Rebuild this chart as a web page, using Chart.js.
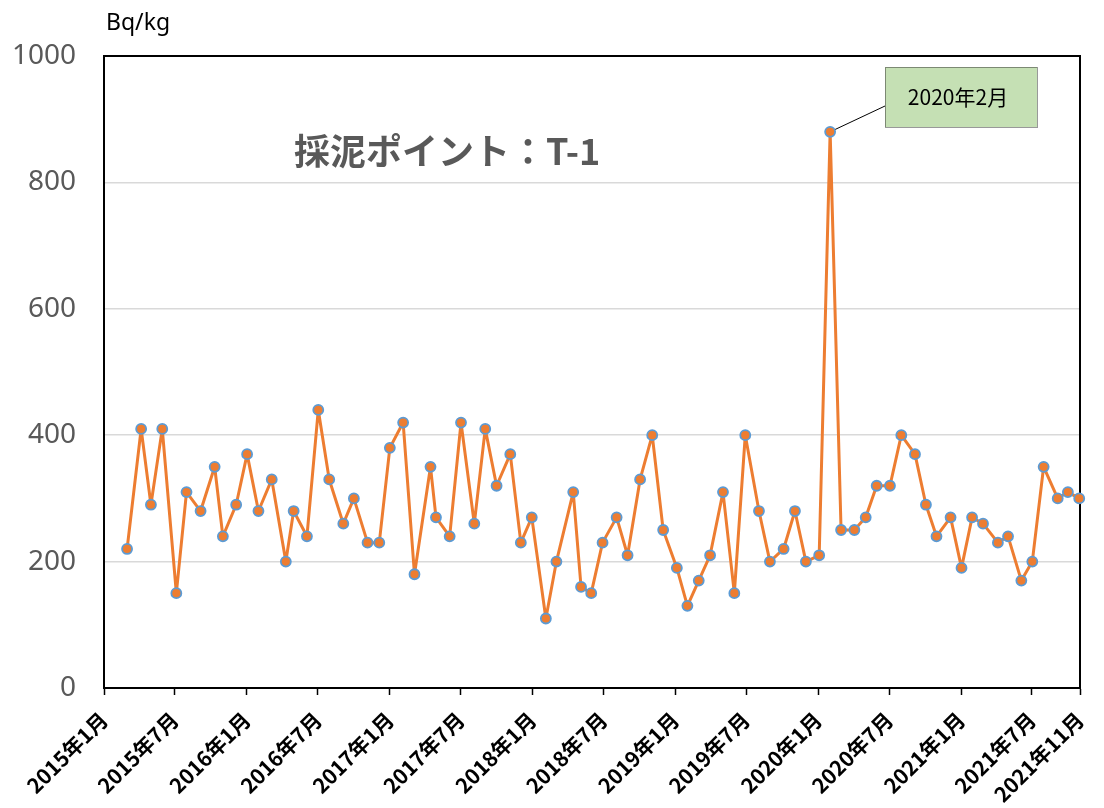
<!DOCTYPE html>
<html>
<head>
<meta charset="utf-8">
<style>
  html, body { margin: 0; padding: 0; background: #fff; }
  #wrap { width: 1104px; height: 808px; }
</style>
<script src="https://cdn.jsdelivr.net/npm/chart.js@4.4.1/dist/chart.umd.min.js"></script>
</head>
<body>
<div id="wrap"><canvas id="c" width="1104" height="808"></canvas></div>
<script>
  // --- data (sampling dates, Bq/kg) ---
  const sampleDates = [
    '2015-03-01', '2015-04-06', '2015-05-01', '2015-05-30', '2015-07-05', '2015-07-31',
    '2015-09-05', '2015-10-11', '2015-11-01', '2015-12-05', '2016-01-02', '2016-01-31',
    '2016-03-05', '2016-04-10', '2016-04-30', '2016-06-03', '2016-07-02', '2016-07-30',
    '2016-09-04', '2016-10-01', '2016-11-05', '2016-12-05', '2017-01-01', '2017-02-04',
    '2017-03-05', '2017-04-15', '2017-04-29', '2017-06-03', '2017-07-02', '2017-08-05',
    '2017-09-02', '2017-10-01', '2017-11-05', '2017-12-02', '2017-12-30', '2018-02-04',
    '2018-03-03', '2018-04-15', '2018-05-05', '2018-05-31', '2018-06-29', '2018-08-04',
    '2018-09-01', '2018-10-03', '2018-11-03', '2018-12-01', '2019-01-05', '2019-02-01',
    '2019-03-02', '2019-03-31', '2019-05-03', '2019-06-01', '2019-06-29', '2019-08-03',
    '2019-08-31', '2019-10-05', '2019-11-03', '2019-12-01', '2020-01-04', '2020-02-01',
    '2020-02-29', '2020-04-03', '2020-05-02', '2020-05-30', '2020-07-03', '2020-08-01',
    '2020-09-05', '2020-10-03', '2020-10-30', '2020-12-05', '2021-01-02', '2021-01-29',
    '2021-02-26', '2021-04-05', '2021-05-01', '2021-06-04', '2021-07-02', '2021-07-31',
    '2021-09-05', '2021-10-01', '2021-10-30'
  ];
  const sampleValues = [
    220, 410, 290, 410, 150, 310,
    280, 350, 240, 290, 370, 280,
    330, 200, 280, 240, 440, 330,
    260, 300, 230, 230, 380, 420,
    180, 350, 270, 240, 420, 260,
    410, 320, 370, 230, 270, 110,
    200, 310, 160, 150, 230, 270,
    210, 330, 400, 250, 190, 130,
    170, 210, 310, 150, 400, 280,
    200, 220, 280, 200, 210, 880,
    250, 250, 270, 320, 320, 400,
    370, 290, 240, 270, 190, 270,
    260, 230, 240, 170, 200, 350,
    300, 310, 300
  ];
  const tickDates = [
    '2015-01-01', '2015-07-01', '2016-01-01', '2016-07-01', '2017-01-01', '2017-07-01',
    '2018-01-01', '2018-07-01', '2019-01-01', '2019-07-01', '2020-01-01', '2020-07-01',
    '2021-01-01', '2021-07-01', '2021-11-01'
  ];
  const tickLabels = [
    '2015年1月', '2015年7月', '2016年1月', '2016年7月', '2017年1月', '2017年7月',
    '2018年1月', '2018年7月', '2019年1月', '2019年7月', '2020年1月', '2020年7月',
    '2021年1月', '2021年7月', '2021年11月'
  ];
  const titleText = '採泥ポイント：T-1';
  const unitText = 'Bq/kg';
  const calloutText = '2020年2月';
  const calloutIndex = 59;

  // days since 2015-01-01
  function dayNum(s) {
    const p = s.split('-');
    return (Date.UTC(+p[0], +p[1] - 1, +p[2]) - Date.UTC(2015, 0, 1)) / 86400000;
  }

  const points = sampleDates.map(function (d, i) { return { x: dayNum(d), y: sampleValues[i] }; });
  const tickDays = tickDates.map(dayNum);

  const CJK = '"Noto Sans CJK JP", "Noto Sans", sans-serif';

  const decor = {
    id: 'decor',
    beforeDatasetsDraw: function (chart) {
      const ctx = chart.ctx, a = chart.chartArea;
      ctx.save();
      ctx.strokeStyle = '#000';
      ctx.lineWidth = 2;
      ctx.strokeRect(a.left, a.top, a.right - a.left, a.bottom - a.top);
      // leader line to callout point
      const pt = chart.getDatasetMeta(0).data[calloutIndex];
      ctx.lineWidth = 1;
      ctx.beginPath();
      ctx.moveTo(885, 106);
      ctx.lineTo(pt.x, pt.y);
      ctx.stroke();
      ctx.restore();
    },
    afterDraw: function (chart) {
      const ctx = chart.ctx;
      ctx.save();
      // unit
      ctx.fillStyle = '#000';
      ctx.font = '23px "Noto Sans", sans-serif';
      ctx.textAlign = 'left';
      ctx.textBaseline = 'alphabetic';
      ctx.fillText(unitText, 106, 30);
      // title
      ctx.fillStyle = '#595959';
      ctx.font = 'bold 36px ' + CJK;
      ctx.textBaseline = 'middle';
      ctx.fillText(titleText, 294, 151);
      // callout box
      ctx.fillStyle = '#c5e0b4';
      ctx.fillRect(885, 67, 152, 60);
      ctx.strokeStyle = '#333';
      ctx.lineWidth = 1;
      ctx.setLineDash([1, 1]);
      ctx.strokeRect(885.5, 67.5, 152, 60);
      ctx.setLineDash([]);
      ctx.fillStyle = '#000';
      ctx.font = '21px ' + CJK;
      ctx.textAlign = 'center';
      ctx.fillText(calloutText, 958, 97);
      ctx.restore();
    }
  };

  new Chart(document.getElementById('c'), {
    type: 'line',
    data: {
      datasets: [{
        data: points,
        borderColor: '#ed7d31',
        borderWidth: 3,
        borderJoinStyle: 'round',
        pointBackgroundColor: '#ed7d31',
        pointBorderColor: '#5b9bd5',
        pointBorderWidth: 1.8,
        pointRadius: 5,
        tension: 0,
        clip: false
      }]
    },
    options: {
      responsive: false,
      animation: false,
      layout: { padding: { top: 56, right: 24, left: 0, bottom: 0 } },
      plugins: { legend: { display: false }, tooltip: { enabled: false } },
      scales: {
        x: {
          type: 'linear',
          min: tickDays[0],
          max: tickDays[tickDays.length - 1],
          afterBuildTicks: function (scale) {
            scale.ticks = tickDays.map(function (v) { return { value: v }; });
          },
          afterFit: function (scale) {
            scale.height = 120;
            scale.paddingLeft = 0;
            scale.paddingRight = 0;
          },
          border: { color: '#000', width: 2 },
          grid: { drawOnChartArea: false, drawTicks: true, tickLength: 7, tickColor: '#000', tickWidth: 1.5 },
          ticks: {
            autoSkip: false,
            minRotation: 45,
            maxRotation: 45,
            padding: 12,
            color: '#000',
            font: { family: CJK, weight: 'bold', size: 21 },
            callback: function (v, i) { return tickLabels[i]; }
          }
        },
        y: {
          min: 0,
          max: 1000,
          afterFit: function (scale) { scale.width = 104; },
          border: { color: '#000', width: 2 },
          grid: { color: '#d9d9d9', lineWidth: 1.5, drawTicks: false },
          ticks: {
            stepSize: 200,
            padding: 28,
            color: '#595959',
            font: { family: '"Noto Sans", sans-serif', size: 28 },
            callback: function (v) { return String(v); }
          }
        }
      }
    },
    plugins: [decor]
  });
</script>
</body>
</html>
